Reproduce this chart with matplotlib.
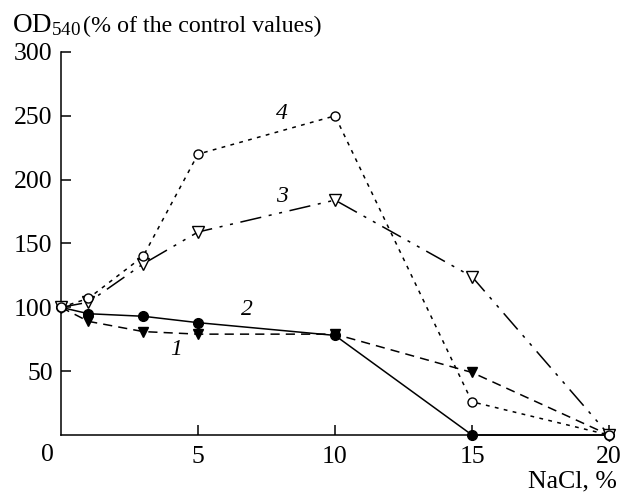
import matplotlib
matplotlib.use("Agg")
import matplotlib.pyplot as plt

plt.rcParams['font.family'] = ['Liberation Serif', 'DejaVu Serif']
plt.rcParams['mathtext.fontset'] = 'stix'

# NaCl concentration, %
nacl = [0, 1, 3, 5, 10, 15, 20]

# OD540, % of the control values
curve1 = [100, 89, 81, 79, 79, 49, 0]
curve2 = [100, 95, 93, 88, 78, 0, 0]
curve3 = [100, 104, 134, 159, 184, 124, 0]
curve4 = [100, 107, 140, 220, 250, 26, 0]

xticks = [5, 10, 15, 20]
yticks = [50, 100, 150, 200, 250, 300]

fig = plt.figure(figsize=(6.29, 4.95), dpi=100)
ax = fig.add_axes([61 / 629, 1 - 435 / 495, 548 / 629, 383 / 495])

lw = 1.1
ax.plot(nacl, curve1, color='black', lw=lw, ls=(0, (6, 4)),
        marker='v', ms=7, mfc='black', mec='black', clip_on=False, zorder=3)
ax.plot(nacl, curve2, color='black', lw=lw, ls='-',
        marker='o', ms=7, mfc='black', mec='black', clip_on=False, zorder=3)
ax.plot(nacl, curve3, color='black', lw=lw, ls=(0, (14, 5, 2, 5, 2, 5)),
        marker='v', ms=8, mfc='white', mec='black', mew=1, clip_on=False, zorder=4)
ax.plot(nacl, curve4, color='black', lw=lw, ls=(0, (2.5, 3.5)),
        marker='o', ms=6.5, mfc='white', mec='black', mew=1, clip_on=False, zorder=4)

# curve numbers
ax.text(8.05, 252, '4', fontsize=17, style='italic', ha='center', va='center')
ax.text(8.05, 187, '3', fontsize=17, style='italic', ha='center', va='center')
ax.text(6.8, 98, '2', fontsize=17, style='italic', ha='center', va='center')
ax.text(4.2, 67, '1', fontsize=17, style='italic', ha='center', va='center')

ax.set_xlim(0, 20)
ax.set_ylim(0, 300)
ax.set_xticks(xticks)
ax.set_yticks(yticks)
ax.spines['top'].set_visible(False)
ax.spines['right'].set_visible(False)
for s in ('left', 'bottom'):
    ax.spines[s].set_linewidth(1.1)
ax.tick_params(direction='in', length=7, width=1.1, labelsize=18.5)
ax.tick_params(axis='x', pad=8)
ax.tick_params(axis='y', pad=6)

fig.text(47 / 629, 1 - 455 / 495, '0', fontsize=18.5, ha='center', va='center')
fig.text(617 / 629, 1 - 487 / 495, 'NaCl, %', fontsize=18.5, ha='right',
         va='baseline')
fig.text(12 / 629, 1 - 32 / 495, r'$\mathregular{OD_{540}}$', fontsize=19.5,
         ha='left', va='baseline')
fig.text(83 / 629, 1 - 32 / 495, '(% of the control values)', fontsize=17.3,
         ha='left', va='baseline')

fig.savefig('out.png', dpi=100)
